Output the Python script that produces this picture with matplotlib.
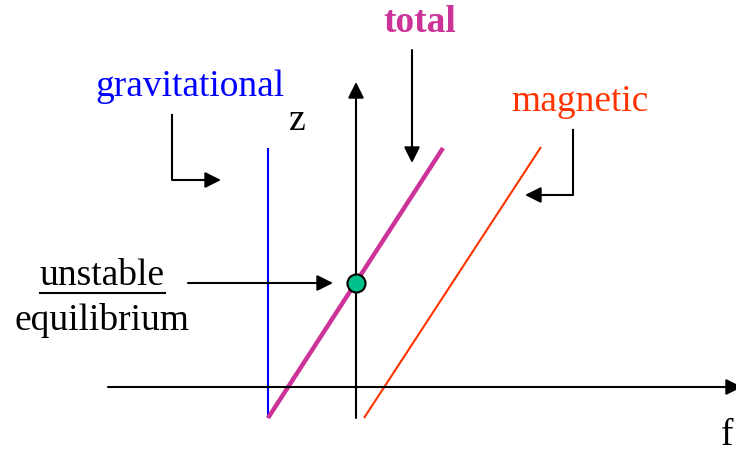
import matplotlib
matplotlib.use("Agg")
import matplotlib.pyplot as plt

# Diagram geometry (canvas units, y grows downward)
grav_x = [268, 268]
grav_y = [148, 418]
total_x = [268, 443]
total_y = [418, 148]
mag_x = [364, 541]
mag_y = [418, 147]
equil_x = [356]
equil_y = [283]

labels = ["gravitational", "total", "magnetic", "z", "f", "unstable", "equilibrium"]

plt.rcParams['font.family'] = ['Liberation Serif', 'DejaVu Serif']

fig = plt.figure(figsize=(7.36, 4.55), dpi=100)
ax = fig.add_axes([0, 0, 1, 1])
ax.set_xlim(0, 736)
ax.set_ylim(455, 0)
ax.axis('off')

arrow = dict(arrowstyle='-|>', color='black', lw=1.5, mutation_scale=24,
             shrinkA=0, shrinkB=0)

# axes
ax.annotate('', xy=(742, 387), xytext=(108, 387), arrowprops=arrow,
            annotation_clip=False)
ax.annotate('', xy=(356, 82), xytext=(356, 418), arrowprops=arrow)

# curves
ax.plot(grav_x, grav_y, color='#0000ff', lw=1.5, solid_capstyle='butt')
ax.plot(total_x, total_y, color='#cc3399', lw=3.2, solid_capstyle='butt')
ax.plot(mag_x, mag_y, color='#ff3300', lw=1.5, solid_capstyle='butt')
ax.plot(equil_x, equil_y, 'o', ms=13, markerfacecolor='#00c08c',
        markeredgecolor='black', markeredgewidth=1.5, zorder=5)

fs = 27
# text labels
ax.text(190, 87, labels[0], color='#0000ff', fontsize=fs, ha='center', va='center')
ax.text(420, 22, labels[1], color='#cc3399', fontsize=fs, fontweight='bold',
        ha='center', va='center')
ax.text(580, 102, labels[2], color='#ff3300', fontsize=fs, ha='center', va='center')
ax.text(297, 121, labels[3], color='black', fontsize=fs, ha='center', va='center')
ax.text(727, 436, labels[4], color='black', fontsize=fs, ha='center', va='center')
ax.text(102, 276, labels[5], color='black', fontsize=fs, ha='center', va='center')
ax.plot([40, 165], [293, 293], color='black', lw=1.5)
ax.text(102, 321, labels[6], color='black', fontsize=fs, ha='center', va='center')

# pointer arrows
ax.plot([172, 172, 200], [115, 180, 180], color='black', lw=1.5)
ax.annotate('', xy=(221, 180), xytext=(199, 180), arrowprops=arrow)
ax.annotate('', xy=(412, 163), xytext=(412, 50), arrowprops=arrow)
ax.plot([573, 573, 545], [130, 195, 195], color='black', lw=1.5)
ax.annotate('', xy=(525, 195), xytext=(546, 195), arrowprops=arrow)
ax.annotate('', xy=(333, 283), xytext=(188, 283), arrowprops=arrow)

fig.savefig('out.png', dpi=100)
